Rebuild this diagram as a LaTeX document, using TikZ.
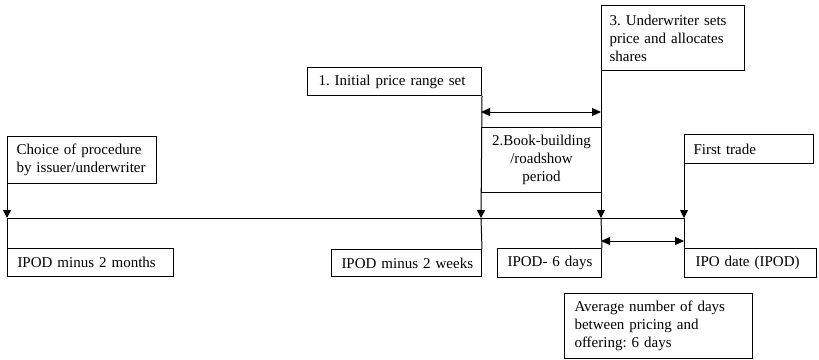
\documentclass[tikz,border=0pt]{standalone}
\usepackage{fontspec}
\setmainfont{Liberation Serif}
\usetikzlibrary{arrows.meta}
\frenchspacing
\begin{document}
\begin{tikzpicture}[x=1pt,y=-1pt,
  every path/.style={line width=1pt},
  box/.style={draw, line width=1pt, anchor=north west, inner xsep=9pt, inner ysep=0pt,
    align=left, font=\fontsize{15}{18}\selectfont\frenchspacing},
  arr/.style={-{Triangle[length=8pt,width=8pt]}},
  darr/.style={{Triangle[length=9pt,width=8pt]}-{Triangle[length=9pt,width=8pt]}}]
\useasboundingbox (0,0) rectangle (819,359);
% upper boxes
\node[box, minimum width=149pt, text width=131pt, minimum height=47pt] (choice) at (7,136)
  {\mbox{Choice of procedure}\\\mbox{by issuer/underwriter}};
\node[box, minimum width=174pt, inner xsep=11pt, text width=152pt, minimum height=28pt] (initial) at (307,67)
  {\mbox{1. Initial price range set}};
\node[box, minimum width=120pt, text width=102pt, minimum height=65pt, align=center] (book) at (481,127)
  {2.Book-building\\/roadshow\\period};
\node[box, minimum width=143pt, text width=127pt, inner xsep=8pt, minimum height=65pt] (under) at (601,5)
  {\mbox{3. Underwriter sets}\\\mbox{price and allocates}\\shares};
\node[box, minimum width=129pt, text width=111pt, minimum height=29pt] (first) at (684,134)
  {\mbox{First trade}};
% lower boxes
\node[box, minimum width=166pt, text width=146pt, inner xsep=10pt, minimum height=28pt] (m2months) at (7,248)
  {\mbox{IPOD minus 2 months}};
\node[box, minimum width=150pt, text width=136pt, inner xsep=7pt, minimum height=27pt] (m2weeks) at (331,249)
  {\mbox{\hspace{3pt}IPOD minus 2 weeks}};
\node[box, minimum width=104pt, text width=88pt, inner xsep=8pt, minimum height=29pt] (m6days) at (497,248)
  {\mbox{\hspace{2pt}IPOD- 6 days}};
\node[box, minimum width=132pt, text width=110pt, inner xsep=11pt, minimum height=29pt] (ipod) at (684,248)
  {\mbox{IPO date (IPOD)}};
\node[box, minimum width=188pt, text width=168pt, inner xsep=10pt, minimum height=65pt] (avg) at (564,293)
  {\mbox{Average number of days}\\\mbox{between pricing and}\\\mbox{offering: 6 days}};
% timeline points
\coordinate (t1) at (7,218);
\coordinate (t2) at (481,218);
\coordinate (t3) at (601,218);
\coordinate (t4) at (684,218);
\coordinate (b1) at (481,112);
\coordinate (b2) at (601,112);
\coordinate (c1) at (601,241);
\coordinate (c2) at (684,241);
\draw (t1) -- (t4);
\draw[arr] (choice.south west) -- (t1);
\draw (t1) -- (m2months.north west);
\draw[arr] (initial.south east) -- (t2);
\draw (t2) -- (m2weeks.north east);
\draw[arr] (under.south west) -- (t3);
\draw (t3) -- (m6days.north east);
\draw[arr] (first.south west) -- (t4);
\draw (t4) -- (ipod.north west);
\draw[darr] (b1) -- (b2);
\draw[darr] (c1) -- (c2);
\end{tikzpicture}
\end{document}
